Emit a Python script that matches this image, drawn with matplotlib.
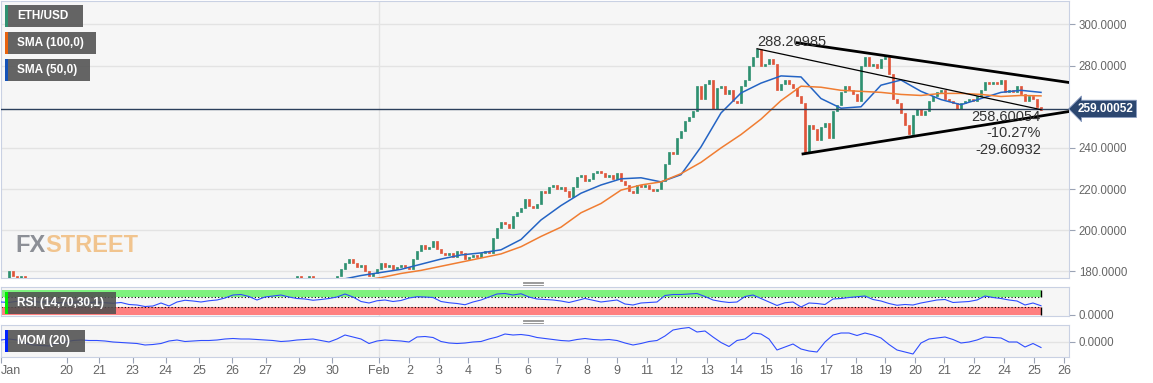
import matplotlib.pyplot as plt
import numpy as np
from matplotlib.patches import Rectangle
from matplotlib.lines import Line2D

W, H = 1153, 383

# ETH/USD closes, one per bar (bars before ~Jan 30 sit below the visible window)
closes = [
    175, 177, 180, 178, 177, 178, 177, 176,
    174, 172, 171, 173, 172, 170, 169, 171, 170, 168, 169, 171,
    170, 172, 171, 169, 170, 172, 173, 171, 170, 172, 174, 173,
    172, 171, 173, 174, 172, 173, 175, 174, 173, 172, 174, 175,
    174, 173, 172, 174, 175, 173, 172, 171, 173, 174, 173, 172,
    173, 174, 172, 171, 172, 173, 174, 175, 174, 173, 174, 175,
    176, 175, 174, 175,
    177, 176, 178, 177, 176, 178, 177, 176, 175, 176, 177, 176, 178,
    181, 184, 186, 184, 182, 183, 180, 178, 179, 181,
    184, 182, 183, 181, 182, 183, 182, 181, 186, 190,
    193, 191, 192, 195, 191, 189, 188, 189, 187, 190,
    189, 186, 187, 188, 187, 189, 190, 189, 196, 201,
    204, 203, 201, 207, 209, 211, 215, 212, 211, 213,
    219, 218, 221, 222, 220, 221, 219, 216, 221, 226,
    227, 224, 225, 228, 229, 228, 226, 227, 225, 228,
    224, 222, 219, 218, 222, 221, 222, 220, 219, 220,
    224, 232, 238, 237, 245, 248, 253, 255, 258, 270,
    264, 271, 273, 259, 269, 270, 266, 268, 263, 262,
    270, 273, 280, 284, 288.2, 280, 281, 283, 281, 268,
    271, 273, 271, 269, 265, 262, 238, 251, 249, 244,
    250, 252, 245, 258, 261, 267, 270, 268, 266, 263,
    280, 284, 280, 281, 279, 283, 284, 276, 264, 262,
    257, 251, 247, 256, 259, 256, 258, 263, 265, 267,
    268, 264, 263, 262, 259, 262, 263, 264, 263, 265,
    268, 272, 271, 272, 271, 273, 267, 268, 267, 270,
    266, 263, 265, 264, 260, 258.6,
]

# moving averages, one value every 5 bars
sma_step = 5
sma50 = [
    171, 171.5, 172, 172, 171.5, 171, 171, 171.5, 172, 172.5, 173, 173, 173,
    173.5, 173.5, 174, 175, 176, 178, 179.5, 181, 183.5, 186, 188, 189, 190.5,
    195.5, 205, 212, 218, 222, 225, 225.5, 223.5, 227, 240.5, 257, 266.7, 271.5,
    275, 274.5, 264, 259.3, 260, 270.5, 273, 267.5, 263.5, 261, 264, 267, 268, 267,
]
sma100 = [
    168, 168.5, 169, 169, 169.5, 169.5, 170, 170, 170.5, 170.5, 171, 171, 171.5,
    172, 172.5, 173, 173.5, 174.5, 175.5, 177, 179, 180.5, 182.5, 184.5, 186.5,
    188.5, 192, 197, 201.5, 208.5, 213, 219.5, 222, 223.5, 227.5, 233, 240, 246.5,
    254, 263, 270, 269.5, 268, 267.5, 267, 266, 265.5, 266.5, 266.5, 266, 265,
    265.5, 265.3,
]

# indicators, one value every 2 bars
ind_step = 2
rsi = [
    50, 48, 53, 51, 52, 49, 51, 48, 46, 49, 51, 48, 50, 47, 45, 48, 40, 38, 32, 34,
    46, 34, 50, 57, 54, 50, 55, 58, 66, 78, 80, 72, 58, 70, 74, 78, 70, 64, 62, 57,
    60, 64, 70, 82, 70, 52, 46, 55, 58, 52, 56, 66, 71, 70, 68, 52, 47, 44, 39, 50,
    58, 70, 82, 84, 78, 83, 70, 62, 60, 58, 54, 48, 56, 64, 57, 50, 54, 58, 42, 38,
    46, 48, 50, 76, 80, 80, 82, 84, 72, 58, 52, 48, 50, 72, 78, 64, 50, 36, 47, 50,
    30, 46, 44, 40, 62, 64, 68, 71, 74, 60, 54, 44, 37, 40, 38, 46, 52, 58, 60, 48,
    50, 52, 58, 74, 68, 64, 58, 54, 38, 46, 35,
]
mom = [
    4, 6, 4, -2, -6, -7, -8, -3, 0, 3, 4, 3, 3, 2, 0, -1, -2, -3, -6, -5,
    -3, 2, 4, 1, 2, 3, 3, 4, 6, 7, 6, 6, 5, 4, 3, 1, 2, 4, 5, 6,
    3, 0, 6, 14, 10, 6, -3, 2, 4, 3, 2, 0, 10, 11, 9, 1, -2, -3, -2, 0,
    1, 6, 10, 16, 14, 15, 13, 9, 7, 5, 3, 2, 5, 7, 5, 4, 5, 3, -2, -6,
    -3, 1, 3, 12, 24, 27, 29, 20, 22, 10, -1, -9, 3, 6, 18, 16, 6, -16, -10, -4,
    -14, -18, -20, 0, 14, 18, 18, 13, 18, 14, 8, -5, -16, -20, -24, -2, 6, 8, 10, 5,
    -2, 0, 4, 10, 9, 8, 0, 0, -10, -3, -11,
]

tick_pos = [0, 16.4, 24.6, 32.9, 41.2, 49.5, 57.8, 66.2, 74.5, 82.8, 94.5,
            102.1, 109.5, 116.8, 124.2, 131.7, 139.1, 146.6, 154, 161.4, 168.8,
            176.4, 183.75, 191.25, 198.75, 206.25, 213.7, 221.1, 228.5, 235.8,
            243.3, 250.8, 258.25, 265.75]
tick_labels = ["Jan", "20", "21", "23", "24", "25", "26", "27", "29", "30", "Feb",
               "2", "3", "4", "5", "6", "7", "8", "9", "11", "12", "13", "14", "15",
               "16", "17", "18", "19", "20", "21", "22", "24", "25", "26"]

last_price = 259.00052
peak_bar, peak_val = 189, 288.20985
end_bar, end_val = 260, 258.60054
upper_line = ([199, 267], [291.1, 271.8])
lower_line = ([200.5, 267], [237.1, 257.7])
measure_lines = ["258.60054", "-10.27%", "-29.60932"]

GREEN = "#2e9070"
RED = "#e0553a"
BLUE = "#2464c4"
ORANGE = "#f07d32"
PANEL = "#f6f6f6"
EDGE = "#c9d1e3"
GRID = "#e3e3e3"
TXT = "#666666"

plt.rcParams["font.family"] = ["Liberation Sans", "DejaVu Sans"]

fig = plt.figure(figsize=(W / 100, H / 100), dpi=100)
fig.patch.set_facecolor("white")


def px_axes(top, bottom, left=1, right=1069):
    return fig.add_axes([left / W, 1 - bottom / H, (right - left) / W, (bottom - top) / H])


ax = px_axes(1, 278)
ax_rsi = px_axes(287, 316)
ax_mom = px_axes(325, 357)

for a in (ax, ax_rsi, ax_mom):
    a.set_facecolor(PANEL)
    for s in a.spines.values():
        s.set_color(EDGE)
    a.set_xlim(0, 267)
    a.yaxis.tick_right()
    a.tick_params(axis="y", colors="#9aa3b5", labelcolor=TXT, labelsize=8.3,
                  length=4, pad=3)
    a.axvline(tick_pos[tick_labels.index("Feb")], color=GRID, lw=1, zorder=0)

# ---- price panel
x = np.arange(len(closes))
c = np.array(closes, dtype=float)
o = np.r_[c[0], c[:-1]]
cols = np.where(c >= o, GREEN, RED)
ax.bar(x, c - o, bottom=o, width=0.5, color=cols, edgecolor=cols, linewidth=0.5, zorder=3)

ax.plot(np.arange(len(sma50)) * sma_step, sma50, color=BLUE, lw=1.1, zorder=4)
ax.plot(np.arange(len(sma100)) * sma_step, sma100, color=ORANGE, lw=1.1, zorder=4)

ax.set_ylim(176.8, 311.4)
ax.set_yticks([180, 200, 220, 240, 280, 300])
ax.set_yticklabels(["%.4f" % v for v in [180, 200, 220, 240, 280, 300]])
ax.grid(axis="y", color=GRID, lw=1)
ax.set_axisbelow(True)
ax.set_xticks([])

ax.axhline(last_price, color="#2b3f5c", lw=1, zorder=5)
ax.text(1 + 9 / 1068, last_price, "%.5f" % last_price, transform=ax.get_yaxis_transform(),
        color="white", fontsize=8.5, fontweight="bold", va="center", ha="left",
        bbox=dict(boxstyle="larrow,pad=0.22", fc="#2c4770", ec="#8a9cc0", lw=0.6),
        clip_on=False, zorder=20)

ax.plot(*upper_line, color="black", lw=2, zorder=6)
ax.plot(*lower_line, color="black", lw=2, zorder=6)
ax.plot([peak_bar, end_bar], [peak_val, end_val], color="black", lw=0.9, zorder=6)
ax.text(peak_bar, peak_val, "%.5f" % peak_val, fontsize=10.5, color="#333333",
        va="bottom", ha="left", zorder=7)
ax.text(end_bar, end_val, "\n".join(measure_lines), fontsize=10.5, color="#333333",
        va="top", ha="right", linespacing=1.25, zorder=7)

# watermark
fx = fig.text(15 / W, 1 - 245 / H, "FX", color="#8c8f96", fontsize=17, fontweight="bold",
              va="center", ha="left")
fig.add_artist(plt.Annotation("STREET", xy=(1, 0.5), xycoords=fx, color="#f1c48e",
                              fontsize=17, fontweight="bold", va="center", ha="left"))

# ---- RSI panel
ix = np.arange(len(rsi)) * ind_step
ax_rsi.fill_between(ix, 70, 100, color="#7ef27e", lw=0, zorder=1)
ax_rsi.fill_between(ix, -2, 30, color="#ff8080", lw=0, zorder=1)
ax_rsi.hlines([70, 30], 0, ix[-1], color="black", lw=0.8, linestyle=(0, (1, 2)), zorder=2)
ax_rsi.vlines(ix[-1], 70, 100, color="black", lw=1, zorder=2)
ax_rsi.vlines(ix[-1], -2, 30, color="black", lw=1, zorder=2)
ax_rsi.plot(ix, rsi, color="#2f4dff", lw=0.8, zorder=3)
ax_rsi.set_ylim(-6, 110)
ax_rsi.set_yticks([0])
ax_rsi.set_yticklabels(["0.0000"])
ax_rsi.set_xticks([])

# ---- MOM panel
mx = np.arange(len(mom)) * ind_step
ax_mom.axhline(0, color=GRID, lw=1, zorder=1)
ax_mom.plot(mx, mom, color="#2f4dff", lw=0.8, zorder=3)
ax_mom.set_ylim(-30, 34)
ax_mom.set_yticks([0])
ax_mom.set_yticklabels(["0.0000"])
ax_mom.set_xticks(tick_pos)
ax_mom.set_xticklabels(tick_labels)
ax_mom.tick_params(axis="x", colors="#9aa3b5", labelcolor=TXT, labelsize=9, length=4, pad=2)
ax_mom.get_xticklabels()[0].set_ha("left")


# ---- legend tags
def tag(xp, yp, w, h, label, stripe):
    fig.add_artist(Rectangle((xp / W, 1 - (yp + h) / H), w / W, h / H, transform=fig.transFigure,
                             fc="#505050", ec="none", alpha=0.88, zorder=10))
    fig.add_artist(Rectangle((xp / W, 1 - (yp + h) / H), 3 / W, h / H, transform=fig.transFigure,
                             fc=stripe, ec="none", zorder=11))
    fig.text((xp + 12) / W, 1 - (yp + h / 2) / H, label, color="white", fontsize=8.5,
             fontweight="bold", va="center", ha="left", zorder=12)


tag(5, 5, 78, 22, "ETH/USD", GREEN)
tag(5, 32, 91, 22, "SMA (100,0)", "#e8620e")
tag(5, 59, 85, 22, "SMA (50,0)", "#1452b8")
tag(5, 292, 111, 22, "RSI (14,70,30,1)", "#00ee00")
tag(5, 330, 80, 22, "MOM (20)", "#0022ff")

# drag handles between panels
for yc in (283, 321):
    for dy in (-1.5, 0, 1.5):
        fig.add_artist(Line2D([523 / W, 543 / W], [1 - (yc + dy) / H] * 2,
                              transform=fig.transFigure, color="#8a8a8a", lw=0.6))

fig.savefig("out.png", dpi=100, facecolor="white")
